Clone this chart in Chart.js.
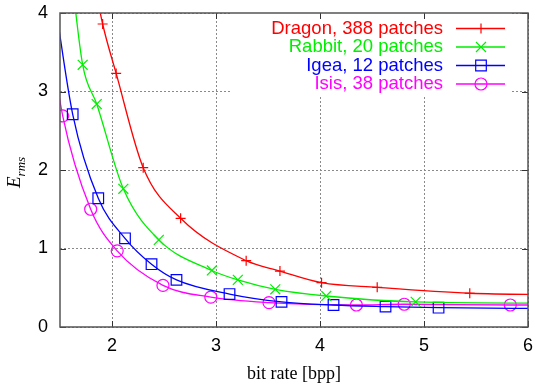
<!DOCTYPE html>
<html>
<head>
<meta charset="utf-8">
<script src="https://cdn.jsdelivr.net/npm/chart.js@4.4.1/dist/chart.umd.min.js"></script>
<style>
  html, body { margin: 0; padding: 0; background: #fff; }
  #wrap { width: 533px; height: 390px; }
</style>
</head>
<body>
<div id="wrap"><canvas id="c"></canvas></div>
<script>
// ── E_rms vs. bit rate, four meshes ─────────────────────────────────────────

const xTicks = [2, 3, 4, 5, 6];
const yTicks = [0, 1, 2, 3, 4];

// points outside 1.5..6 / 0..4 only carry the curve to the frame edge
const dragonX = [1.80, 1.91, 2.04, 2.30, 2.66, 3.29, 3.615, 4.015, 4.55, 5.44, 6.5];
const dragonY = [4.60, 3.86, 3.23, 2.03, 1.385, 0.845, 0.713, 0.565, 0.505, 0.43, 0.41];

const rabbitX = [1.60, 1.718, 1.853, 2.109, 2.45, 2.96, 3.21, 3.57, 4.06, 4.92, 6.6];
const rabbitY = [4.60, 3.34, 2.84, 1.76, 1.11, 0.72, 0.60, 0.48, 0.395, 0.32, 0.30];

const igeaX = [1.45, 1.622, 1.868, 2.125, 2.38, 2.62, 3.13, 3.63, 4.13, 4.63, 5.14, 6.2];
const igeaY = [4.15, 2.71, 1.64, 1.13, 0.80, 0.60, 0.42, 0.32, 0.28, 0.26, 0.246, 0.235];

const isisX = [1.40, 1.526, 1.795, 2.05, 2.49, 2.95, 3.51, 4.35, 4.81, 5.83, 6.4];
const isisY = [3.75, 2.69, 1.50, 0.97, 0.53, 0.38, 0.31, 0.28, 0.29, 0.28, 0.28];

const names  = ['Dragon, 388 patches', 'Rabbit, 20 patches', 'Igea, 12 patches', 'Isis, 38 patches'];
const colors = ['#ff0000', '#00ee00', '#0000ff', '#ff00ff'];
const marks  = ['cross', 'crossRot', 'rect', 'circle'];

const SANS = "'Liberation Sans', Arial, sans-serif";
const SERIF = "'Liberation Serif', 'Times New Roman', serif";

function pts(xs, ys) {
    return xs.map((x, i) => ({ x, y: ys[i] }));
}

function ds(i, xs, ys) {
    return {
        label: names[i],
        data: pts(xs, ys),
        borderColor: colors[i],
        borderWidth: 1.3,
        cubicInterpolationMode: 'monotone',
        pointStyle: marks[i],
        pointRadius: marks[i] === 'rect' ? 7.5 : marks[i] === 'circle' ? 6 : marks[i] === 'crossRot' ? 7 : 5,
        pointBorderWidth: 1.2,
        pointBorderColor: colors[i],
        pointBackgroundColor: 'rgba(0,0,0,0)'
    };
}

function mark(ctx, style, x, y) {
    ctx.beginPath();
    if (style === 'cross') {
        ctx.moveTo(x - 5, y); ctx.lineTo(x + 5, y);
        ctx.moveTo(x, y - 5); ctx.lineTo(x, y + 5);
    } else if (style === 'crossRot') {
        ctx.moveTo(x - 5, y - 5); ctx.lineTo(x + 5, y + 5);
        ctx.moveTo(x - 5, y + 5); ctx.lineTo(x + 5, y - 5);
    } else if (style === 'rect') {
        ctx.rect(x - 5.3, y - 5.3, 10.6, 10.6);
    } else {
        ctx.arc(x, y, 6, 0, Math.PI * 2);
    }
    ctx.stroke();
}

function seg(ctx, x1, y1, x2, y2) {
    ctx.beginPath();
    ctx.moveTo(x1, y1);
    ctx.lineTo(x2, y2);
    ctx.stroke();
}

const frame = {
    id: 'frame',
    beforeDatasetsDraw(chart) {
        // key box hides the grid behind it
        const { ctx, chartArea: a } = chart;
        ctx.save();
        ctx.fillStyle = '#fff';
        ctx.fillRect(232, a.top, 278, 82);
        ctx.restore();
    },
    afterDatasetsDraw(chart) {
        const { ctx, chartArea: a, scales: { x, y } } = chart;
        ctx.save();
        ctx.strokeStyle = '#333';
        ctx.lineWidth = 1;
        xTicks.forEach(v => {
            const px = Math.round(x.getPixelForValue(v)) + 0.5;
            seg(ctx, px, a.bottom, px, a.bottom - 6);
            seg(ctx, px, a.top, px, a.top + 6);
        });
        yTicks.forEach(v => {
            const py = Math.round(y.getPixelForValue(v)) + 0.5;
            seg(ctx, a.left, py, a.left + 6, py);
            seg(ctx, a.right, py, a.right - 6, py);
        });
        ctx.strokeStyle = '#555';
        ctx.lineWidth = 1.5;
        ctx.strokeRect(a.left, a.top, a.right - a.left, a.bottom - a.top);
        ctx.restore();
    },
    afterDraw(chart) {
        const { ctx } = chart;
        ctx.save();
        // key, text right-aligned, sample on the right
        ctx.font = `18.5px ${SANS}`;
        ctx.textAlign = 'right';
        ctx.textBaseline = 'middle';
        names.forEach((n, i) => {
            const yy = 28.5 + i * 18.5;
            ctx.fillStyle = colors[i];
            ctx.fillText(n, 443, yy);
            ctx.strokeStyle = colors[i];
            ctx.lineWidth = 1.3;
            seg(ctx, 456, yy, 505, yy);
            ctx.lineWidth = 1.2;
            mark(ctx, marks[i], 481, yy);
        });

        // axis titles
        ctx.fillStyle = '#000';
        ctx.textAlign = 'center';
        ctx.textBaseline = 'alphabetic';
        ctx.font = `18px ${SERIF}`;
        ctx.fillText('bit rate [bpp]', 294, 379);

        ctx.translate(20, 188);
        ctx.rotate(-Math.PI / 2);
        ctx.textAlign = 'left';
        ctx.font = `italic 19px ${SERIF}`;
        ctx.fillText('E', 0, 0);
        const w = ctx.measureText('E').width;
        ctx.font = `italic 13px ${SERIF}`;
        ctx.fillText('rms', w, 5);
        ctx.restore();
    }
};

new Chart(document.getElementById('c'), {
    type: 'line',
    data: {
        datasets: [
            ds(0, dragonX, dragonY),
            ds(1, rabbitX, rabbitY),
            ds(2, igeaX, igeaY),
            ds(3, isisX, isisY)
        ]
    },
    options: {
        responsive: true,
        maintainAspectRatio: false,
        animation: false,
        events: [],
        layout: { autoPadding: false, padding: { top: 13, right: 5, left: 0, bottom: 0 } },
        plugins: { legend: { display: false }, tooltip: { enabled: false } },
        scales: {
            x: {
                type: 'linear',
                min: 1.5,
                max: 6,
                afterBuildTicks: s => { s.ticks = xTicks.map(v => ({ value: v })); },
                afterFit: s => { s.height = 63; s.paddingLeft = 0; s.paddingRight = 0; },
                ticks: { color: '#000', font: { family: SANS, size: 18 }, padding: 8, maxRotation: 0 },
                grid: { color: '#8a8a8a', lineWidth: 1, drawTicks: false },
                border: { display: false, dash: [2, 2] }
            },
            y: {
                min: 0,
                max: 4,
                afterBuildTicks: s => { s.ticks = yTicks.map(v => ({ value: v })); },
                afterFit: s => { s.width = 60; s.paddingTop = 0; s.paddingBottom = 0; },
                ticks: { color: '#000', font: { family: SANS, size: 18 }, padding: 12 },
                grid: { color: '#8a8a8a', lineWidth: 1, drawTicks: false },
                border: { display: false, dash: [2, 2] }
            }
        }
    },
    plugins: [frame]
});
</script>
</body>
</html>
